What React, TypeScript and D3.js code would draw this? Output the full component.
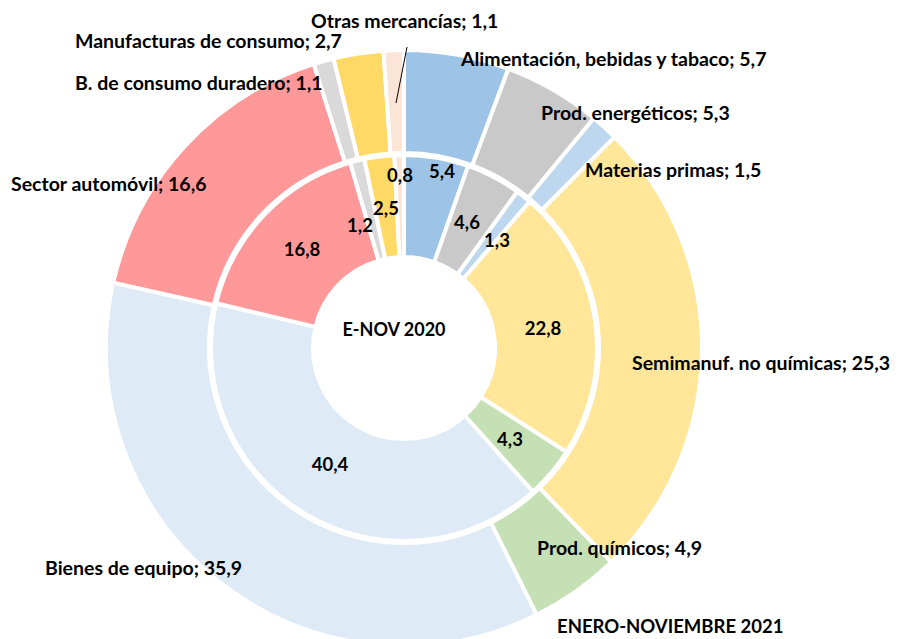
import React, { useEffect, useRef } from "react";
import * as d3 from "d3";

const categories = [
  "Alimentación, bebidas y tabaco",
  "Prod. energéticos",
  "Materias primas",
  "Semimanuf. no químicas",
  "Prod. químicos",
  "Bienes de equipo",
  "Sector automóvil",
  "B. de consumo duradero",
  "Manufacturas de consumo",
  "Otras mercancías",
];
const values2020 = [5.4, 4.6, 1.3, 22.8, 4.3, 40.4, 16.8, 1.2, 2.5, 0.8];
const values2021 = [5.7, 5.3, 1.5, 25.3, 4.9, 35.9, 16.6, 1.1, 2.7, 1.1];
const colors = [
  "#9DC3E6",
  "#C9C9C9",
  "#BDD7EE",
  "#FFE699",
  "#C5E0B4",
  "#DEEBF7",
  "#FF9999",
  "#D9D9D9",
  "#FFD966",
  "#FBE5D6",
];

// label anchor positions (outer labels: left edge / baseline, inner: centre)
const outerLabelPos: [number, number][] = [
  [461, 66],
  [541, 120],
  [585, 177],
  [632, 370],
  [537, 555],
  [45, 575],
  [11, 191],
  [75, 90],
  [75, 48],
  [311, 28],
];
const innerLabelPos: [number, number][] = [
  [442, 172],
  [467, 223],
  [497, 241],
  [543, 329],
  [510, 440],
  [330, 465],
  [302, 250],
  [360, 226],
  [386, 209],
  [400, 176],
];

const fmt = (v: number) => v.toFixed(1).replace(".", ",");

const App = () => {
  const ref = useRef<SVGSVGElement>(null);

  useEffect(() => {
    const svg = d3.select(ref.current);
    svg.selectAll("*").remove();
    const cx = 404;
    const cy = 348;

    const pie = d3
      .pie<number>()
      .sort(null)
      .value((d) => d);

    const g = svg.append("g").attr("transform", `translate(${cx},${cy})`);

    const innerArc = d3.arc<d3.PieArcDatum<number>>().innerRadius(91).outerRadius(193);
    const outerArc = d3.arc<d3.PieArcDatum<number>>().innerRadius(195).outerRadius(298);

    g.selectAll(".outer")
      .data(pie(values2021))
      .enter()
      .append("path")
      .attr("class", "outer")
      .attr("d", outerArc)
      .attr("fill", (d, i) => colors[i])
      .attr("stroke", "#fff")
      .attr("stroke-width", 4);

    g.selectAll(".inner")
      .data(pie(values2020))
      .enter()
      .append("path")
      .attr("class", "inner")
      .attr("d", innerArc)
      .attr("fill", (d, i) => colors[i])
      .attr("stroke", "#fff")
      .attr("stroke-width", 4);

    const font = "Lato, 'Open Sans', sans-serif";

    // leader line for the small outer slice
    svg
      .append("line")
      .attr("x1", 407)
      .attr("y1", 47)
      .attr("x2", 396)
      .attr("y2", 103)
      .attr("stroke", "#000")
      .attr("stroke-width", 1);

    svg
      .selectAll(".olabel")
      .data(categories)
      .enter()
      .append("text")
      .attr("class", "olabel")
      .attr("x", (d, i) => outerLabelPos[i][0])
      .attr("y", (d, i) => outerLabelPos[i][1])
      .attr("font-family", font)
      .attr("font-weight", "bold")
      .attr("font-size", 19.5)
      .attr("fill", "#000")
      .text((d, i) => `${d}; ${fmt(values2021[i])}`);

    svg
      .selectAll(".ilabel")
      .data(values2020)
      .enter()
      .append("text")
      .attr("class", "ilabel")
      .attr("x", (d, i) => innerLabelPos[i][0])
      .attr("y", (d, i) => innerLabelPos[i][1])
      .attr("dy", "0.35em")
      .attr("text-anchor", "middle")
      .attr("font-family", font)
      .attr("font-weight", "bold")
      .attr("font-size", 18.5)
      .attr("fill", "#000")
      .text((d) => fmt(d));

    svg
      .append("text")
      .attr("x", cx - 10)
      .attr("y", 330)
      .attr("dy", "0.35em")
      .attr("text-anchor", "middle")
      .attr("font-family", font)
      .attr("font-weight", "bold")
      .attr("font-size", 18)
      .text("E-NOV 2020");

    svg
      .append("text")
      .attr("x", 557)
      .attr("y", 633)
      .attr("font-family", font)
      .attr("font-weight", "bold")
      .attr("font-size", 18.5)
      .text("ENERO-NOVIEMBRE 2021");
  }, []);

  return (
    <svg
      ref={ref}
      width={900}
      height={639}
      style={{ position: "absolute", left: 0, top: 0, background: "#fff" }}
    ></svg>
  );
};

export default App;
